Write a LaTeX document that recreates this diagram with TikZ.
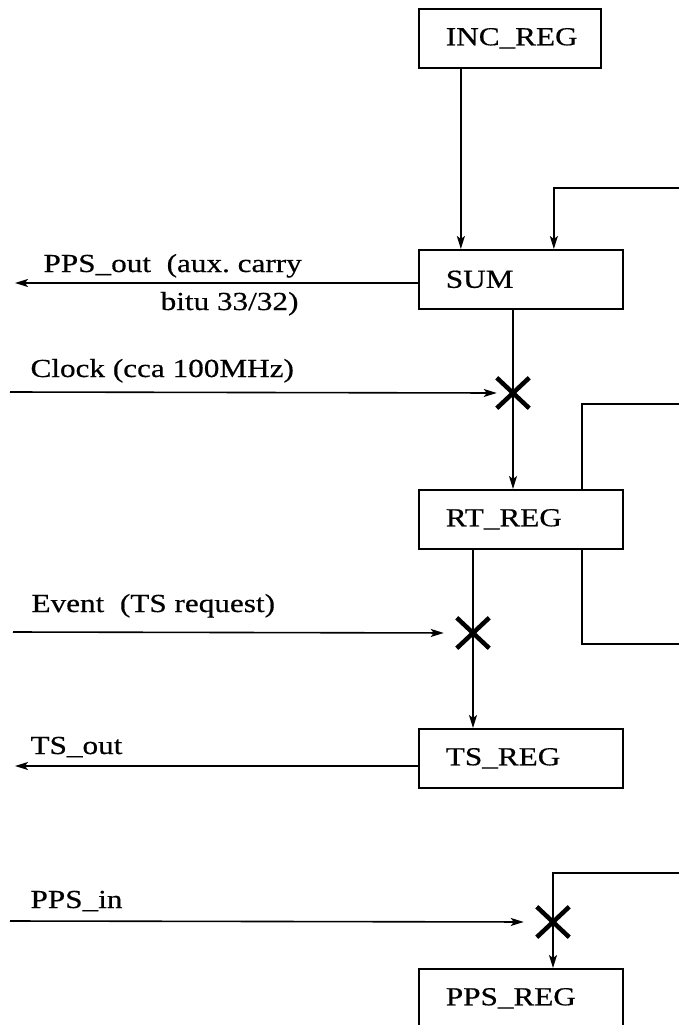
\documentclass[tikz,border=0pt]{standalone}
\usepackage{fontspec}
\setmainfont{Liberation Serif}[FakeStretch=1.2,FakeBold=0.5]
\usetikzlibrary{arrows.meta,shapes.misc}

\begin{document}
\begin{tikzpicture}[x=1pt,y=-1pt,
    font=\fontsize{26}{31}\selectfont,
    box/.style={draw,line width=1.7pt,minimum height=59pt,text width=150pt,
      inner xsep=27pt,align=left,anchor=north west},
    cross/.style={cross out,draw,line width=4.5pt,minimum width=28pt,
      minimum height=26pt,inner sep=0pt},
    sig/.style={line width=1.6pt,-{Stealth[length=13pt,width=8pt,inset=3pt]}},
    wire/.style={line width=1.6pt}]
  \useasboundingbox (0,0) rectangle (679,1025);

  % registers
  \node[box,text width=128pt] (increg) at (418,8) {INC\_REG};
  \node[box] (sum) at (418,249) {SUM};
  \node[box] (rtreg) at (418,489) {RT\_REG};
  \node[box] (tsreg) at (418,728) {TS\_REG};
  \node[box] (ppsreg) at (418,968) {PPS\_REG};

  % gates
  \node[cross] (x1) at (513,393) {};
  \node[cross] (x2) at (473,633) {};
  \node[cross] (x3) at (553,922) {};

  % outer ends
  \coordinate (ppsout) at (15,283);
  \coordinate (clkin) at (10,392);
  \coordinate (evin) at (13,632);
  \coordinate (tsout) at (15,766);
  \coordinate (ppsin) at (10,921);
  \coordinate (fb1) at (679,188);
  \coordinate (fb2) at (679,404);
  \coordinate (fb3) at (679,644);
  \coordinate (fb4) at (679,873);

  % labels
  \node[anchor=base west] (lppsout) at (40,272) {PPS\_out\ \ (aux.\ carry};
  \node[anchor=base east] (lbitu) at (302,310) {bitu 33/32)};
  \node[anchor=base west] (lclk) at (27,377) {Clock (cca 100MHz)};
  \node[anchor=base west] (levent) at (28,612) {Event\ \ (TS request)};
  \node[anchor=base west] (ltsout) at (27,754) {TS\_out};
  \node[anchor=base west] (lppsin) at (27,908) {PPS\_in};

  % data path
  \draw[sig] ([xshift=-49pt]increg.south) -- ([xshift=-60pt]sum.north);
  \draw[sig] (fb1) -| ([xshift=33pt]sum.north);
  \draw[sig] (sum.west |- ppsout) -- (ppsout);
  \draw[sig] (x1 |- sum.south) -- (x1 |- rtreg.north);
  \draw[sig] (clkin) -- (x1.west);
  \draw[wire] (fb2) -| ([xshift=61pt]rtreg.north);
  \draw[wire] (fb3) -| ([xshift=61pt]rtreg.south);
  \draw[sig] (x2 |- rtreg.south) -- (x2 |- tsreg.north);
  \draw[sig,shorten >=13pt] (evin) -- (x2.west);
  \draw[sig] (tsreg.west |- tsout) -- (tsout);
  \draw[sig] (fb4) -| (x3 |- ppsreg.north);
  \draw[sig,shorten >=13pt] (ppsin) -- (x3.west);
\end{tikzpicture}
\end{document}
